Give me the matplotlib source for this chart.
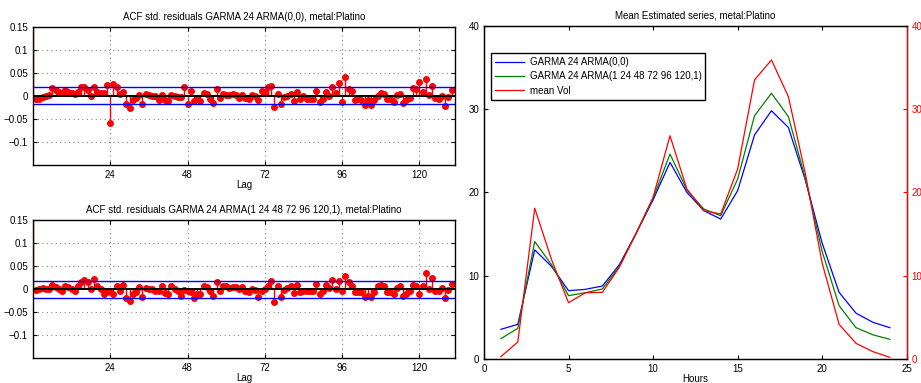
import matplotlib
matplotlib.use("Agg")

import matplotlib.pyplot as plt

plt.rcParams["font.family"] = ["Liberation Sans", "DejaVu Sans"]
plt.rcParams["font.size"] = 7

# =====================================================
# Data - ACF of std. residuals (lags 1..130)
# =====================================================

acf_garma = [
    -0.008, -0.0065, -0.003, -0.001, 0.002, 0.017, 0.012, 0.008, 0.0065, 0.012,
    0.008, 0.006, 0.004, 0.008, 0.019, 0.019, 0.012, -0.001, 0.02, 0.008,
    0.0065, 0.0065, 0.024, -0.059, 0.026, 0.019, 0.004, 0.008, -0.019, -0.026,
    -0.01, -0.005, 0.001, -0.019, 0.003, 0.001, -0.001, -0.001, -0.009, 0.002,
    -0.01, -0.012, 0.002, -0.001, -0.003, -0.003, 0.019, -0.019, 0.01, -0.012,
    -0.005, -0.012, 0.006, 0.003, -0.0065, -0.016, 0.014, -0.004, 0.004, 0.002,
    0.001, 0.003, 0.001, -0.005, 0.002, -0.004, -0.008, 0.001, -0.001, -0.009,
    0.01, 0.008, 0.019, 0.022, -0.024, 0.003, -0.019, -0.003, -0.001, 0.004,
    -0.012, 0.008, -0.008, -0.001, -0.0065, -0.0065, -0.0065, 0.01, -0.014, -0.008,
    0.008, -0.001, 0.019, 0.0065, 0.028, -0.014, 0.04, 0.015, 0.01, -0.01,
    -0.0065, -0.01, -0.021, -0.01, -0.02, -0.01, -0.001, 0.0065, 0.004, -0.008,
    -0.008, -0.014, 0.002, 0.004, -0.015, -0.01, -0.004, 0.017, 0.014, 0.031,
    0.009, 0.037, 0.002, 0.021, -0.005, -0.0065, -0.001, -0.022, -0.003, 0.012,
]

acf_garma_arma = [
    -0.0015, 0.0, 0.002, 0.001, 0.0, 0.009, 0.004, 0.0, -0.003, 0.006,
    0.004, 0.001, -0.005, 0.006, 0.015, 0.019, 0.0145, 0.0, 0.022, 0.007,
    0.0, -0.01, -0.007, -0.004, -0.01, 0.006, -0.003, 0.009, -0.02, -0.025,
    -0.01, -0.007, 0.004, -0.017, 0.002, 0.001, 0.0, -0.003, -0.003, 0.006,
    -0.009, -0.01, 0.006, 0.0, -0.003, -0.0145, -0.0015, -0.003, -0.007, -0.02,
    -0.01, -0.01, 0.007, 0.004, -0.005, -0.0145, 0.015, -0.003, 0.007, 0.006,
    0.002, 0.004, 0.004, 0.0, 0.004, -0.003, -0.007, 0.0, -0.0015, -0.017,
    -0.003, 0.0, 0.007, 0.017, -0.027, 0.006, -0.017, -0.0015, 0.002, 0.006,
    -0.009, 0.009, -0.007, -0.003, -0.005, -0.005, -0.005, 0.0115, -0.01, -0.005,
    0.009, 0.002, 0.019, 0.0, 0.017, -0.005, 0.029, 0.0145, 0.006, -0.007,
    -0.007, -0.007, -0.017, -0.0145, -0.017, -0.007, 0.006, 0.009, 0.007, -0.007,
    -0.007, -0.01, 0.002, 0.007, -0.0145, -0.01, -0.005, 0.009, 0.006, -0.01,
    0.007, 0.035, 0.0, 0.024, -0.003, -0.003, 0.002, -0.02, -0.0015, 0.0115,
]

conf_bound = 0.0185

# =====================================================
# Data - mean estimated series by hour
# =====================================================

hours = list(range(1, 25))

garma_00 = [3.56, 4.16, 13.1, 11.1, 8.2, 8.36, 8.76, 11.3, 15.1, 19.1, 23.6, 20.0,
            17.8, 16.8, 20.2, 26.9, 29.8, 27.8, 21.5, 13.9, 8.0, 5.5, 4.4, 3.76]

garma_arma = [2.44, 3.68, 14.1, 11.3, 7.6, 7.96, 8.4, 11.1, 15.1, 19.3, 24.6, 20.3,
              18.0, 17.2, 21.6, 29.2, 31.9, 29.1, 21.7, 12.9, 6.4, 3.76, 2.9, 2.36]

mean_vol = [0.28, 2.04, 18.1, 11.9, 6.76, 7.96, 8.0, 11.0, 15.1, 19.4, 26.8, 20.4,
            17.8, 17.4, 22.8, 33.5, 35.9, 31.5, 22.3, 11.5, 4.16, 1.88, 0.88, 0.2]

titles_acf = [
    "ACF std. residuals GARMA 24 ARMA(0,0), metal:Platino",
    "ACF std. residuals GARMA 24 ARMA(1 24 48 72 96 120,1), metal:Platino",
]

legend_labels = [
    "GARMA 24 ARMA(0,0)",
    "GARMA 24 ARMA(1 24 48 72 96 120,1)",
    "mean Vol",
]

# =====================================================
# Figure
# =====================================================

fig = plt.figure(figsize=(9.21, 3.83), dpi=100)

acf_axes = [
    fig.add_axes([0.0358, 0.570, 0.458, 0.360]),
    fig.add_axes([0.0358, 0.0645, 0.458, 0.361]),
]

lags = [0] + list(range(1, 131))

for ax, vals, title in zip(acf_axes, [acf_garma, acf_garma_arma], titles_acf):

    series = [1.0] + vals

    markers, stems, base = ax.stem(lags, series, linefmt="r-", markerfmt="ro", basefmt=" ")
    markers.set_markersize(4)
    stems.set_linewidth(1)

    ax.axhline(conf_bound, color="blue", lw=1)
    ax.axhline(-conf_bound, color="blue", lw=1)
    ax.axhline(0, color="black", lw=1.4)

    ax.set_xlim(0, 131)
    ax.set_ylim(-0.15, 0.15)
    ax.set_xticks([24, 48, 72, 96, 120])
    ax.set_yticks([-0.1, -0.05, 0, 0.05, 0.1, 0.15])
    ax.set_yticklabels(["\u22120.1", "\u22120.05", "0", "0.05", "0.1", "0.15"])

    ax.grid(True, linestyle=(0, (1, 3)), color="#888888", lw=0.8)
    ax.tick_params(direction="in", length=3, right=True, top=True)
    for s in ax.spines.values():
        s.set_linewidth(1.0)

    ax.set_title(title, fontsize=7, pad=5)
    ax.set_xlabel("Lag", labelpad=0)

# =====================================================
# Right panel - mean estimated series
# =====================================================

ax = fig.add_axes([0.5255, 0.0627, 0.459, 0.870])

ax.plot(hours, garma_00, color="blue", lw=0.9, label=legend_labels[0])
ax.plot(hours, garma_arma, color="green", lw=0.9, label=legend_labels[1])
ax.plot([], [], color="red", lw=0.9, label=legend_labels[2])

ax.set_xlim(0, 25)
ax.set_ylim(0, 40)
ax.set_xticks([0, 5, 10, 15, 20, 25])
ax.set_yticks([0, 10, 20, 30, 40])
ax.tick_params(direction="in", length=3, top=True)
for s in ax.spines.values():
    s.set_linewidth(1.0)

ax.set_title("Mean Estimated series, metal:Platino", fontsize=7, pad=5)
ax.set_xlabel("Hours", labelpad=0)

ax2 = ax.twinx()
ax2.plot(hours, mean_vol, color="red", lw=0.9)
ax2.set_ylim(0, 40)
ax2.set_yticks([0, 10, 20, 30, 40])
ax2.tick_params(direction="in", length=3, colors="red")
ax2.spines["right"].set_color("red")

leg = ax.legend(loc="upper left", bbox_to_anchor=(0.016, 0.918), borderaxespad=0,
                fancybox=False, edgecolor="black", framealpha=1, fontsize=7,
                handlelength=3.0, handletextpad=0.6, borderpad=0.4, labelspacing=0.45)
leg.get_frame().set_linewidth(1.0)

fig.savefig("out.png", dpi=100)
